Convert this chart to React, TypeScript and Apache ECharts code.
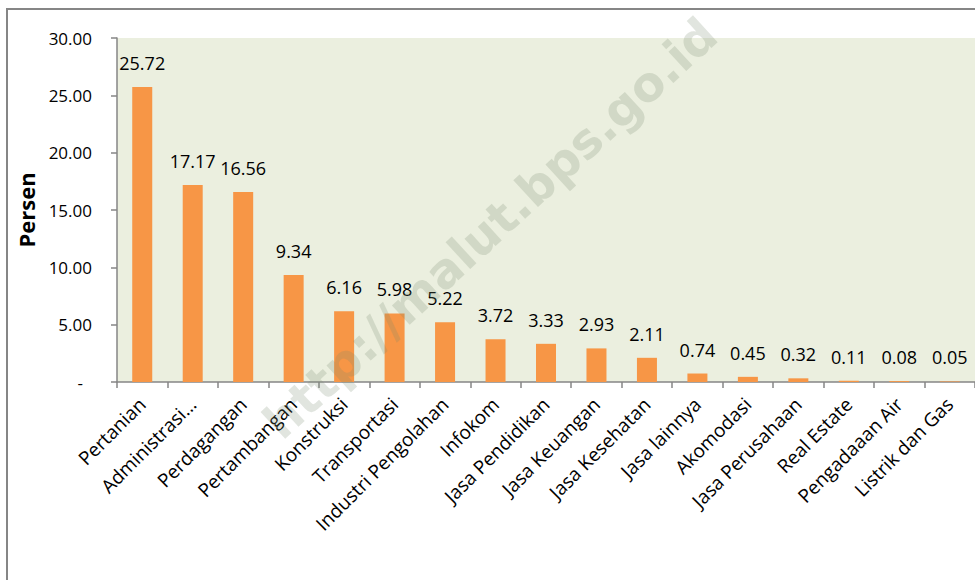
import React, { useEffect, useRef } from "react";
import * as echarts from "echarts";

const categories = [
  "Pertanian",
  "Administrasi…",
  "Perdagangan",
  "Pertambangan",
  "Konstruksi",
  "Transportasi",
  "Industri Pengolahan",
  "Infokom",
  "Jasa Pendidikan",
  "Jasa Keuangan",
  "Jasa Kesehatan",
  "Jasa lainnya",
  "Akomodasi",
  "Jasa Perusahaan",
  "Real Estate",
  "Pengadaaan Air",
  "Listrik dan Gas",
];

const values = [25.72, 17.17, 16.56, 9.34, 6.16, 5.98, 5.22, 3.72, 3.33, 2.93, 2.11, 0.74, 0.45, 0.32, 0.11, 0.08, 0.05];

const yMin = 0;
const yMax = 30;
const yInterval = 5;
const yAxisTitle = "Persen";
const watermark = "http://malut.bps.go.id";

export default function App() {
  const ref = useRef<HTMLDivElement>(null);

  useEffect(() => {
    if (!ref.current) return;
    const chart = echarts.init(ref.current, null, { renderer: "svg" });
    const font = "'Open Sans', 'Noto Sans', sans-serif";
    chart.setOption({
      animation: false,
      backgroundColor: "#ffffff",
      grid: {
        left: 117,
        top: 38,
        width: 860,
        height: 344,
        show: true,
        backgroundColor: "#EBEFDF",
        borderWidth: 0,
      },
      xAxis: {
        type: "category",
        data: categories,
        axisLine: { show: true, lineStyle: { color: "#868686", width: 1.5 } },
        axisTick: { show: true, length: 6, lineStyle: { color: "#868686", width: 1.5 } },
        axisLabel: {
          interval: 0,
          rotate: 45,
          margin: 19,
          color: "#000000",
          fontFamily: font,
          fontSize: 19,
        },
        splitLine: { show: false },
      },
      yAxis: {
        type: "value",
        min: yMin,
        max: yMax,
        interval: yInterval,
        name: yAxisTitle,
        nameLocation: "middle",
        nameRotate: 90,
        nameGap: 80,
        nameTextStyle: {
          color: "#000000",
          fontFamily: font,
          fontWeight: "bold",
          fontSize: 22,
        },
        axisLine: { show: true, lineStyle: { color: "#868686", width: 1.5 } },
        axisTick: { show: true, length: 6, lineStyle: { color: "#868686", width: 1.5 } },
        axisLabel: {
          margin: 25,
          color: "#000000",
          fontFamily: font,
          fontSize: 17,
          formatter: (v: number) => (v === 0 ? "{d|-}" : v.toFixed(2)),
          rich: {
            d: { color: "#000000", fontFamily: font, fontSize: 17, padding: [0, 9, 0, 0] },
          },
        },
        splitLine: { show: false },
      },
      series: [
        {
          type: "bar",
          data: values,
          barWidth: 20,
          itemStyle: { color: "#F79646" },
          label: {
            show: true,
            position: "top",
            distance: 15,
            color: "#000000",
            fontFamily: font,
            fontSize: 18,
            formatter: (p: any) => Number(p.value).toFixed(2),
          },
          z: 2,
        },
      ],
      graphic: [
        {
          type: "rect",
          shape: { x: 7, y: 9, width: 1100, height: 700 },
          style: { fill: "none", stroke: "#868686", lineWidth: 2 },
          z: 100,
          silent: true,
        },
        {
          type: "text",
          x: 490,
          y: 228,
          rotation: (42.5 * Math.PI) / 180,
          style: {
            text: watermark,
            fill: "rgba(120,135,110,0.22)",
            font: "bold 48px 'DejaVu Sans', sans-serif",
            textAlign: "center",
            textVerticalAlign: "middle",
          },
          z: 100,
          silent: true,
        },
      ],
    });
    return () => chart.dispose();
  }, []);

  return (
    <div
      ref={ref}
      style={{ position: "fixed", left: 0, top: 0, width: 975, height: 580 }}
    />
  );
}
